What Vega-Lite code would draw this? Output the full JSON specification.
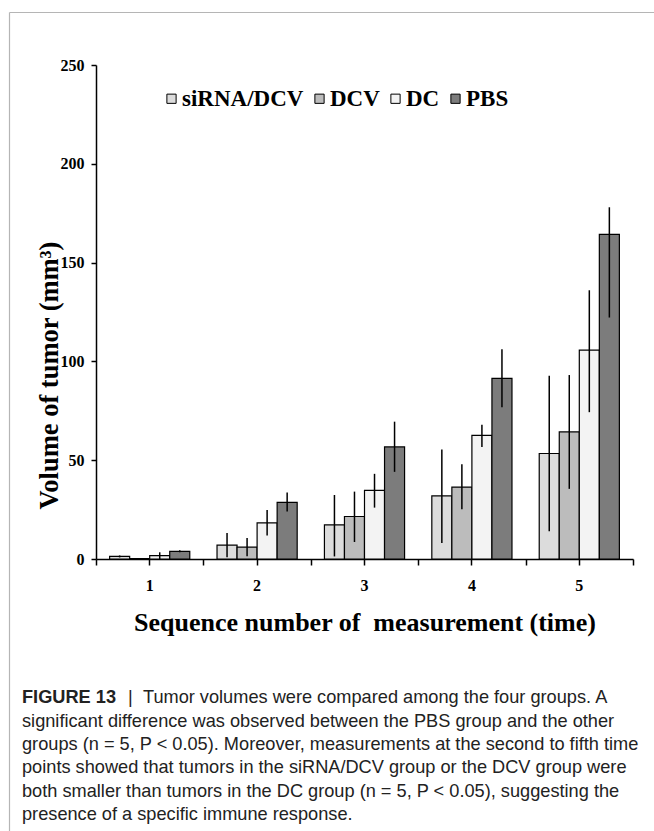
{
  "$schema": "https://vega.github.io/schema/vega-lite/v6.json",
  "width": 537,
  "height": 494,
  "autosize": {"type": "none"},
  "padding": {"left": 96, "top": 65, "right": 21, "bottom": 272},
  "background": "white",
  "config": {"view": {"stroke": null}, "font": "Liberation Serif"},
  "datasets": {
    "bars": [
      {"time": "1", "group": "siRNA/DCV", "value": 1.3, "lo": 0.8, "hi": 1.8},
      {"time": "1", "group": "DCV", "value": 0.2, "lo": 0.2, "hi": 0.2},
      {"time": "1", "group": "DC", "value": 1.7, "lo": 0.0, "hi": 3.4},
      {"time": "1", "group": "PBS", "value": 3.9, "lo": 3.4, "hi": 4.4},
      {"time": "2", "group": "siRNA/DCV", "value": 7.0, "lo": 0.9, "hi": 13.1},
      {"time": "2", "group": "DCV", "value": 6.0, "lo": 1.4, "hi": 10.6},
      {"time": "2", "group": "DC", "value": 18.3, "lo": 11.9, "hi": 24.8},
      {"time": "2", "group": "PBS", "value": 28.7, "lo": 24.0, "hi": 33.7},
      {"time": "3", "group": "siRNA/DCV", "value": 17.3, "lo": 1.3, "hi": 32.4},
      {"time": "3", "group": "DCV", "value": 21.5, "lo": 8.6, "hi": 34.1},
      {"time": "3", "group": "DC", "value": 34.7, "lo": 26.0, "hi": 43.1},
      {"time": "3", "group": "PBS", "value": 56.7, "lo": 44.1, "hi": 69.5},
      {"time": "4", "group": "siRNA/DCV", "value": 31.9, "lo": 8.1, "hi": 55.4},
      {"time": "4", "group": "DCV", "value": 36.4, "lo": 25.2, "hi": 48.0},
      {"time": "4", "group": "DC", "value": 62.6, "lo": 56.7, "hi": 68.0},
      {"time": "4", "group": "PBS", "value": 91.4, "lo": 76.8, "hi": 106.2},
      {"time": "5", "group": "siRNA/DCV", "value": 53.4, "lo": 14.0, "hi": 92.8},
      {"time": "5", "group": "DCV", "value": 64.3, "lo": 35.5, "hi": 93.1},
      {"time": "5", "group": "DC", "value": 105.7, "lo": 74.3, "hi": 136.0},
      {"time": "5", "group": "PBS", "value": 164.3, "lo": 122.2, "hi": 178.0}
    ],
    "frame": [{"fx": 1, "fy": 1}]
  },
  "title": {
    "text": "FIGURE 13",
    "subtitle": [
      "\u200b\u00a0\u00a0\u00a0\u00a0\u00a0\u00a0\u00a0\u00a0\u00a0\u00a0\u00a0\u00a0\u00a0\u00a0\u00a0\u00a0\u00a0\u00a0\u00a0\u00a0\u00a0|\u00a0\u00a0Tumor volumes were compared among the four groups. A",
      "significant difference was observed between the PBS group and the other",
      "groups (n = 5, P < 0.05). Moreover, measurements at the second to fifth time",
      "points showed that tumors in the siRNA/DCV group or the DCV group were",
      "both smaller than tumors in the DC group (n = 5, P < 0.05), suggesting the",
      "presence of a specific immune response."
    ],
    "orient": "bottom",
    "anchor": "start",
    "frame": "group",
    "dx": -74,
    "offset": -199,
    "font": "Liberation Sans",
    "fontSize": 18.2,
    "fontWeight": "bold",
    "color": "#222222",
    "subtitleFont": "Liberation Sans",
    "subtitleFontSize": 18.2,
    "subtitleFontWeight": "normal",
    "subtitleColor": "#222222",
    "subtitleLineHeight": 23.4,
    "subtitlePadding": -18
  },
  "layer": [
    {
      "data": {"name": "bars"},
      "layer": [
        {
          "mark": {"type": "bar", "stroke": "black", "strokeWidth": 1.2},
          "encoding": {
            "x": {
              "field": "time", "type": "ordinal",
              "scale": {"paddingInner": 0, "paddingOuter": 0},
              "axis": {
                "orient": "bottom",
                "title": "Sequence number of\u00a0 measurement (time)",
                "titleFont": "Liberation Serif", "titleFontSize": 26, "titleFontWeight": "bold", "titleColor": "black",
                "titlePadding": 16,
                "labelAngle": 0,
                "labelFont": "Liberation Serif", "labelFontSize": 16, "labelFontWeight": "bold", "labelColor": "black",
                "labelPadding": 12,
                "domainColor": "black", "domainWidth": 1.5,
                "tickColor": "black", "tickWidth": 1.5, "tickSize": 6
              }
            },
            "xOffset": {
              "field": "group", "type": "nominal",
              "sort": ["siRNA/DCV", "DCV", "DC", "PBS"],
              "scale": {"paddingInner": 0, "paddingOuter": 0.68}
            },
            "y": {
              "field": "value", "type": "quantitative",
              "scale": {"domain": [0, 250], "nice": false},
              "axis": {
                "title": "Volume of tumor (mm³)",
                "titleFont": "Liberation Serif", "titleFontSize": 26.5, "titleFontWeight": "bold", "titleColor": "black",
                "titleAngle": -90, "titleBaseline": "alphabetic", "titleAlign": "center",
                "titleX": -39, "titleY": 310,
                "values": [0, 50, 100, 150, 200, 250],
                "grid": false,
                "labelFont": "Liberation Serif", "labelFontSize": 16, "labelFontWeight": "bold", "labelColor": "black",
                "labelPadding": 7,
                "domainColor": "black", "domainWidth": 1.5,
                "tickColor": "black", "tickWidth": 1.5, "tickSize": 5
              }
            },
            "fill": {
              "field": "group", "type": "nominal",
              "scale": {"domain": ["siRNA/DCV", "DCV", "DC", "PBS"], "range": ["#dcdcdc", "#bcbcbc", "#f3f3f3", "#7c7c7c"]},
              "legend": {
                "orient": "none", "legendX": 64, "legendY": 22,
                "direction": "horizontal", "title": null,
                "symbolType": "square", "symbolSize": 85,
                "symbolStrokeColor": "black", "symbolStrokeWidth": 1,
                "labelFont": "Liberation Serif", "labelFontSize": 23, "labelFontWeight": "bold", "labelColor": "black",
                "labelOffset": -1, "columnPadding": 4, "padding": 0
              }
            }
          }
        },
        {
          "mark": {"type": "rule", "color": "black", "strokeWidth": 1.5},
          "encoding": {
            "x": {
              "field": "time", "type": "ordinal",
              "axis": {
                "orient": "bottom", "title": null, "labels": false, "domain": false,
                "tickBand": "extent",
                "tickColor": "black", "tickWidth": 1.5, "tickSize": 6
              }
            },
            "xOffset": {"field": "group", "type": "nominal", "sort": ["siRNA/DCV", "DCV", "DC", "PBS"]},
            "y": {"field": "lo", "type": "quantitative", "title": "Volume of tumor (mm³)"},
            "y2": {"field": "hi"}
          }
        }
      ],
      "resolve": {"axis": {"x": "independent"}}
    },
    {
      "data": {"name": "frame"},
      "mark": {"type": "point", "opacity": 0},
      "encoding": {
        "x": {
          "field": "fx", "type": "quantitative",
          "scale": {"domain": [0, 1], "range": [-87, 620]},
          "axis": {"orient": "top", "offset": 53, "domainColor": "#b5b5b5", "domainWidth": 1.2, "ticks": false, "labels": false, "title": null, "grid": false}
        },
        "y": {
          "field": "fy", "type": "quantitative",
          "scale": {"domain": [0, 1], "range": [770, -53]},
          "axis": {"orient": "left", "offset": 87, "domainColor": "#b5b5b5", "domainWidth": 1.2, "ticks": false, "labels": false, "title": null, "grid": false}
        }
      }
    }
  ],
  "resolve": {"scale": {"x": "independent", "y": "independent"}, "axis": {"x": "independent", "y": "independent"}}
}
